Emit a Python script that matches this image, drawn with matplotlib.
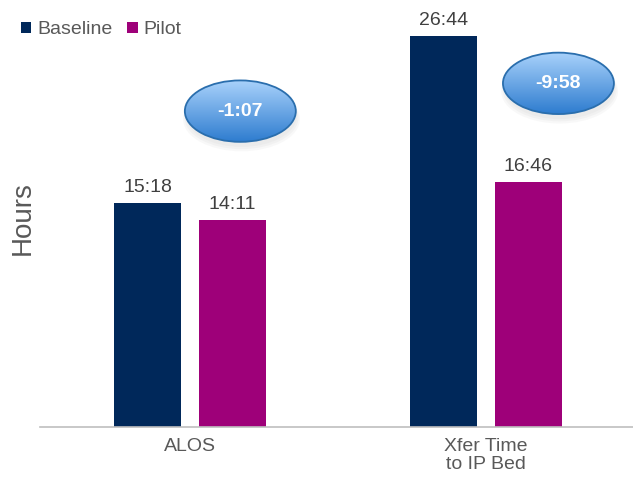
import matplotlib.pyplot as plt
import numpy as np
from matplotlib.patches import Ellipse
from matplotlib.colors import LinearSegmentedColormap

plt.rcParams['font.family'] = ['Liberation Sans', 'DejaVu Sans']

# data (minutes)
categories = ['ALOS', 'Xfer Time\nto IP Bed']
baseline = [15 * 60 + 18, 26 * 60 + 44]
pilot = [14 * 60 + 11, 16 * 60 + 46]
series_names = ['Baseline', 'Pilot']
colors = ['#00285a', '#9e0079']
# where the change bubbles sit (category x, height in hours)
bubble_pos = [(0.17, 21.6), (1.245, 23.5)]


def fmt(minutes):
    sign = '-' if minutes < 0 else ''
    m = abs(int(minutes))
    return f'{sign}{m // 60}:{m % 60:02d}'


fig = plt.figure(figsize=(6.33, 4.82), dpi=100)
ax = fig.add_axes([40 / 633, 55 / 482, 593 / 633, 427 / 482])

x = np.arange(len(categories))
w = 0.226
off = 0.1435
b1 = ax.bar(x - off, np.array(baseline) / 60, w, color=colors[0], label=series_names[0])
b2 = ax.bar(x + off, np.array(pilot) / 60, w, color=colors[1], label=series_names[1])

for bars, vals in ((b1, baseline), (b2, pilot)):
    for r, v in zip(bars, vals):
        ax.annotate(fmt(v), (r.get_x() + r.get_width() / 2, r.get_height()),
                    xytext=(0, 5), textcoords='offset points', ha='center', va='bottom',
                    fontsize=14, color='#404040')

ax.set_xticks(x)
ax.set_xticklabels(categories, fontsize=14, color='#595959', linespacing=1.1)
ax.tick_params(axis='x', length=0, pad=8)
ax.set_yticks([])
for s in ['top', 'right', 'left']:
    ax.spines[s].set_visible(False)
ax.spines['bottom'].set_color('#bfbfbf')
ax.spines['bottom'].set_linewidth(1.2)

fig.text(23 / 633, 1 - 218 / 482, 'Hours', rotation=90, ha='center', va='center',
         fontsize=20, color='#595959')

# change bubbles with a vertical gradient
ew, eh = 0.375, 4.2
grad = np.linspace(0, 1, 256).reshape(-1, 1)
cmap = LinearSegmentedColormap.from_list('bub', ['#2e7ccf', '#a9d2fb'])
for (cx, cy), b, p in zip(bubble_pos, baseline, pilot):
    for i in range(3):
        sh = Ellipse((cx + 0.004, cy - 0.35 - i * 0.1), ew + i * 0.01, eh + i * 0.1,
                     facecolor='#808080', edgecolor='none', alpha=0.05, zorder=3)
        ax.add_patch(sh)
    el = Ellipse((cx, cy), ew, eh, facecolor='none', edgecolor='#2a6ead', lw=1.3, zorder=5)
    ax.add_patch(el)
    im = ax.imshow(grad, cmap=cmap, aspect='auto', origin='lower', zorder=4,
                   extent=(cx - ew / 2, cx + ew / 2, cy - eh / 2, cy + eh / 2))
    im.set_clip_path(el)
    ax.text(cx, cy, fmt(p - b), ha='center', va='center', color='white',
            fontsize=14, fontweight='bold', zorder=6)

ax.set_xlim(-0.507, 1.497)
ax.set_ylim(0, 29.2)

fig.legend(loc='center left', bbox_to_anchor=(3 / 633, 1 - 30 / 482), ncol=2, frameon=False,
           fontsize=14, handlelength=0.55, handleheight=0.55, handletextpad=0.3,
           columnspacing=0.75, labelcolor='#595959')

fig.savefig('out.png', dpi=100)
